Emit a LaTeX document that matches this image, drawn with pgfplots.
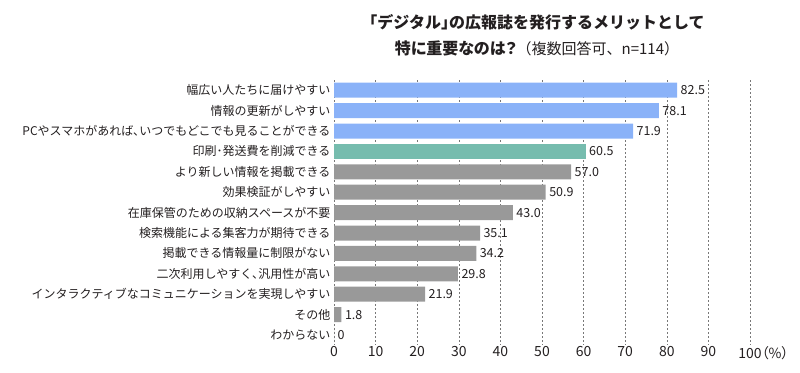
\documentclass[border=0pt]{standalone}
\usepackage{fontspec}
\setmainfont{Noto Sans CJK JP}
\newfontfamily\pfont[RawFeature=+palt]{Noto Sans CJK JP}
\usepackage{pgfplots}
\pgfplotsset{compat=1.18}
\usepackage{pgfplotstable}

\definecolor{cblue}{RGB}{138,178,248}
\definecolor{cteal}{RGB}{118,188,174}
\definecolor{cgray}{RGB}{153,153,153}
\definecolor{ctext}{RGB}{35,31,32}
\definecolor{cgrid}{RGB}{120,120,120}

\pgfplotstableread{
y v lab
0 82.5 82.5
1 78.1 78.1
2 71.9 71.9
}\blueT
\pgfplotstableread{
y v lab
3 60.5 60.5
}\tealT
\pgfplotstableread{
y v lab
4 57.0 57.0
5 50.9 50.9
6 43.0 43.0
7 35.1 35.1
8 34.2 34.2
9 29.8 29.8
10 21.9 21.9
11 1.8 1.8
12 0 0
}\grayT

\begin{document}
\begin{tikzpicture}[x=1pt,y=1pt]
\useasboundingbox (0,0) rectangle (800,372);
\node[font=\bfseries\fontsize{16}{26}\selectfont, align=center, text=ctext] at (537,337)
 {｢デジタル｣の広報誌を発行するメリットとして\\{\pfont 特に重要なのは？}{\mdseries\fontsize{15}{26}\selectfont（複数回答可、n=114）}};
\begin{axis}[
  at={(334pt,26.8pt)}, anchor=south west,
  scale only axis, width=416pt, height=265.2pt,
  xmin=0, xmax=100, ymin=-0.5, ymax=12.5,
  y dir=reverse,
  xbar, bar width=15pt, bar shift=0pt,
  axis line style={draw=none},
  major tick length=0pt,
  xtick={0,10,...,100},
  xticklabels={0,10,20,30,40,50,60,70,80,90,100\rlap{\pfont（\%）}},
  ytick={0,...,12},
  yticklabels={幅広い人たちに届けやすい,情報の更新がしやすい,PCやスマホがあれば､いつでもどこでも見ることができる,印刷･発送費を削減できる,より新しい情報を掲載できる,効果検証がしやすい,在庫保管のための収納スペースが不要,検索機能による集客力が期待できる,掲載できる情報量に制限がない,二次利用しやすく､汎用性が高い,インタラクティブなコミュニケーションを実現しやすい,その他,わからない},
  xticklabel style={font=\fontsize{14}{16}\selectfont, text=ctext, yshift=2pt},
  yticklabel style={font=\fontsize{12}{14}\selectfont, text=ctext},
  xmajorgrids,
  grid style={cgrid, line width=0.6pt, dash pattern=on 2pt off 2pt},
  nodes near coords,
  point meta=explicit symbolic,
  every node near coord/.append style={font=\fontsize{12.5}{14}\selectfont, text=ctext, anchor=west},
]
\addplot[fill=cblue, draw=none] table[x=v, y=y, meta=lab] {\blueT};
\addplot[fill=cteal, draw=none] table[x=v, y=y, meta=lab] {\tealT};
\addplot[fill=cgray, draw=none] table[x=v, y=y, meta=lab] {\grayT};
\end{axis}
\end{tikzpicture}
\end{document}
